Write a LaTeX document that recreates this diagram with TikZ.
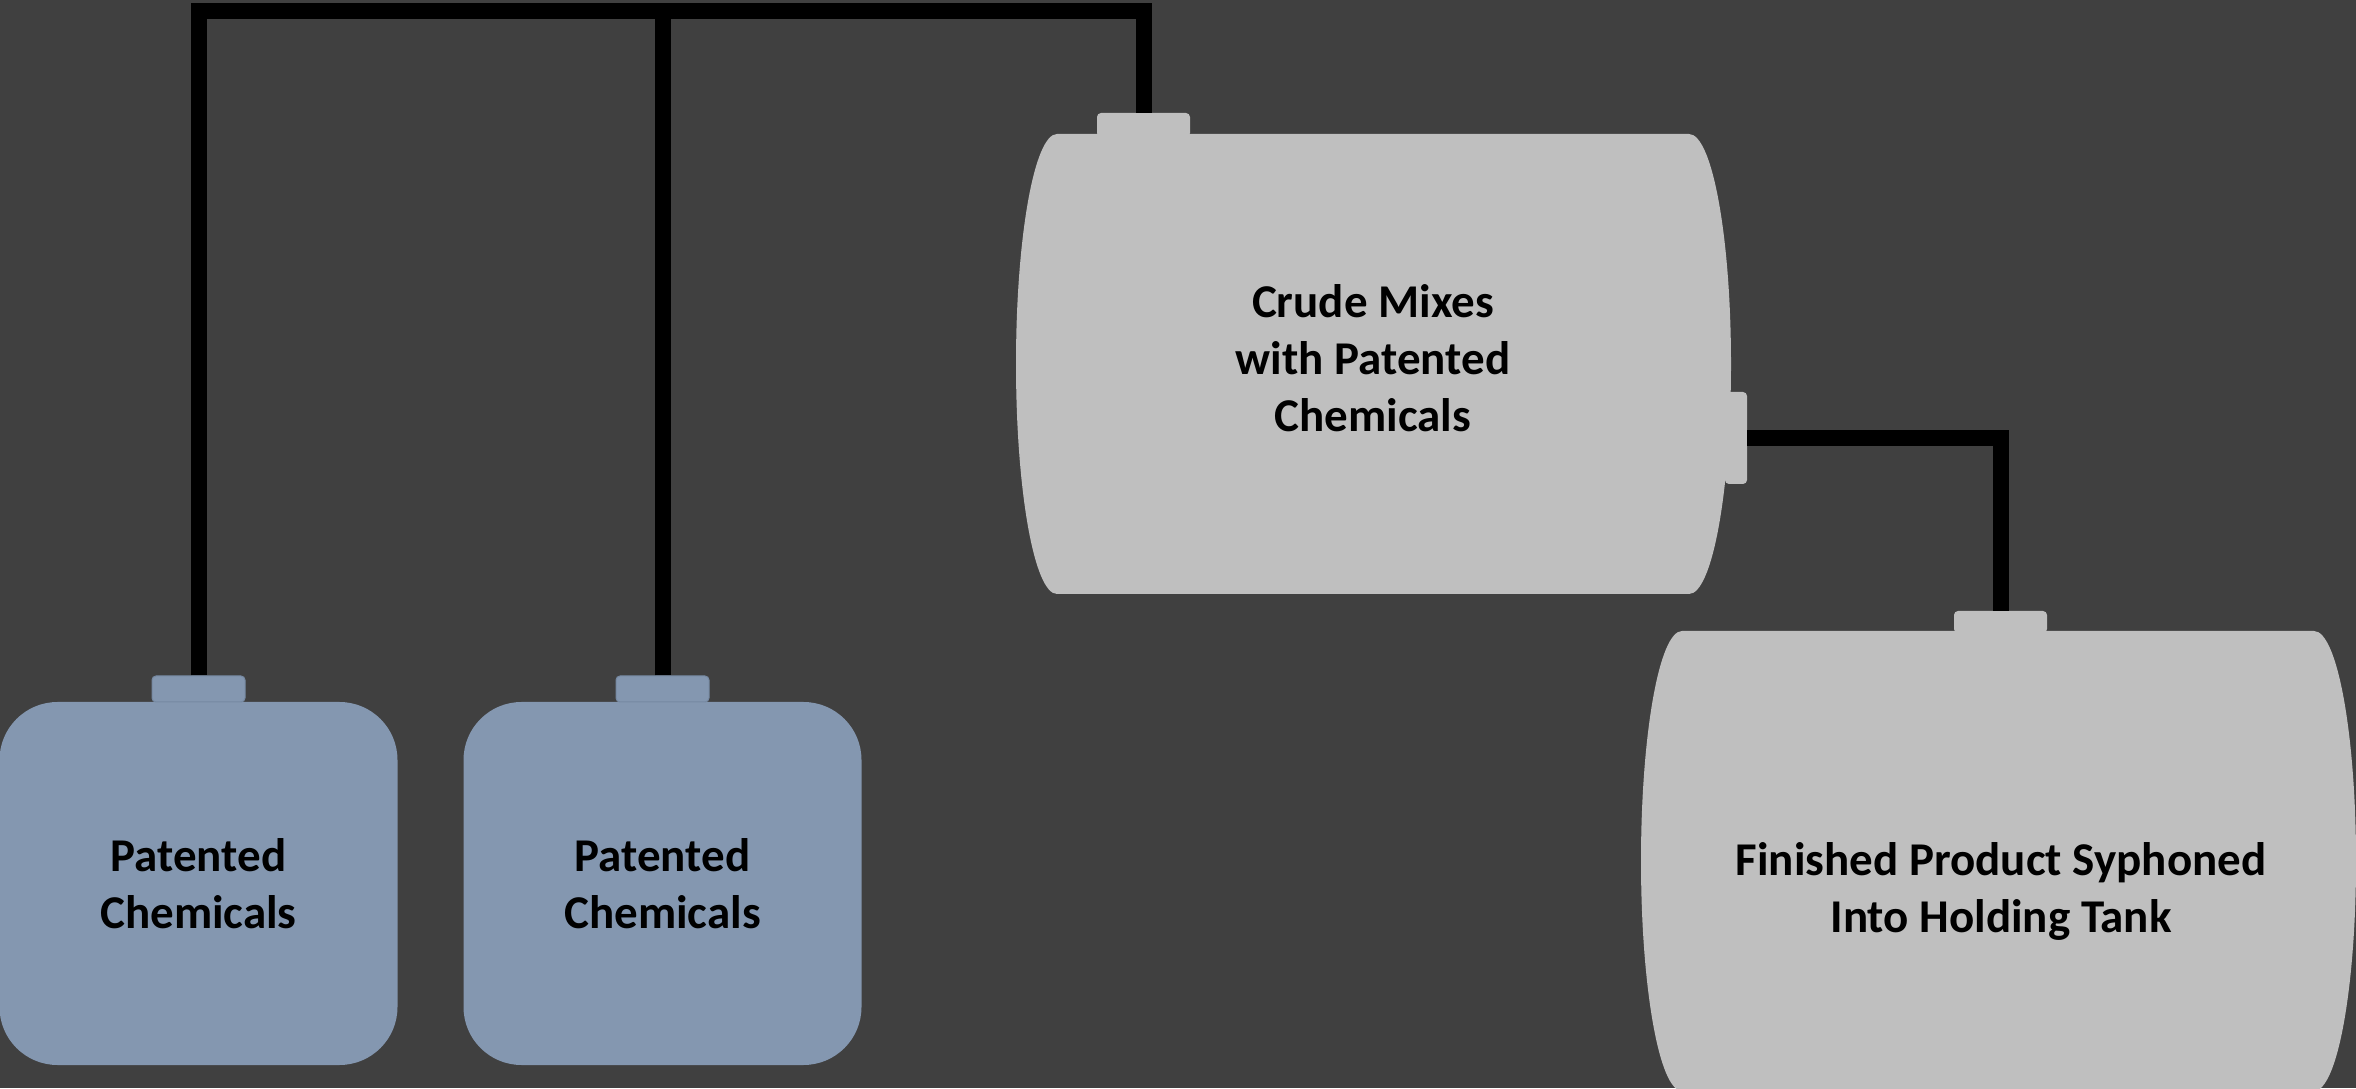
\documentclass[tikz,border=0pt]{standalone}
\usepackage{fontspec}
\setmainfont{Carlito}
\definecolor{bggrey}{HTML}{404040}
\definecolor{tankgrey}{HTML}{BFBFBF}
\definecolor{chemblue}{HTML}{8497B0}
\definecolor{capedge}{HTML}{7689A2}
\tikzset{
  pipe/.style = {line width = 16pt, black},
  cap/.style = {fill = #1, rounded corners = 4pt, inner sep = 0pt, minimum width = 93pt},
  jug/.style = {fill = chemblue, rounded corners = 58pt, minimum width = 398pt, minimum height = 363pt,
                inner sep = 0pt, align = center},
  tanklabel/.style = {align = center},
}
\begin{document}
\begin{tikzpicture}[x = 1pt, y = 1pt, font = \fontsize{47}{57}\selectfont\bfseries]
        \useasboundingbox (0,0) rectangle (2356,1088);
        \clip (0,0) rectangle (2356,1088);
        \fill[bggrey] (0,0) rectangle (2356,1088);
        % chemical jugs
        \node[jug] (chemA) at (198.5,204.5) {Patented\\Chemicals};
        \node[jug] (chemB) at (662.5,204.5) {Patented\\Chemicals};
        \node[cap = chemblue, draw = capedge, line width = 1pt, minimum height = 26pt] (capA) at (198.5,399) {};
        \node[cap = chemblue, draw = capedge, line width = 1pt, minimum height = 26pt] (capB) at (662.5,399) {};
        % mixing tank
        \node[cap = tankgrey, minimum width = 22pt, minimum height = 92pt] (nozzle) at (1736,650) {};
        \node[cap = tankgrey, minimum height = 24pt] (capmix) at (1143.5,963) {};
        \fill[tankgrey] (1057,954) -- (1689,954) arc[start angle = 90, end angle = -90, x radius = 42, y radius = 230]
                -- (1057,494) arc[start angle = 270, end angle = 90, x radius = 41, y radius = 230] -- cycle;
        \node[tanklabel] (mix) at (1373,730) {Crude Mixes\\with Patented\\Chemicals};
        % holding tank
        \node[cap = tankgrey, minimum height = 22pt] (caphold) at (2000.5,466) {};
        \fill[tankgrey] (1682,457) -- (2314,457) arc[start angle = 90, end angle = -90, x radius = 42, y radius = 230]
                -- (1682,-3) arc[start angle = 270, end angle = 90, x radius = 41, y radius = 230] -- cycle;
        \node[tanklabel] (hold) at (2001,197) {Finished Product Syphoned\\Into Holding Tank};
        % pipes
        \coordinate (top) at (0,1076.5);
        \coordinate (topedge) at (0,1084.5);
        \draw[pipe] (capA.north) -- (capA.north |- top) -| (capmix.north);
        \draw[pipe] (capB.north) -- (capB.north |- topedge);
        \draw[pipe] (nozzle.east) -| (caphold.north);
\end{tikzpicture}
\end{document}
